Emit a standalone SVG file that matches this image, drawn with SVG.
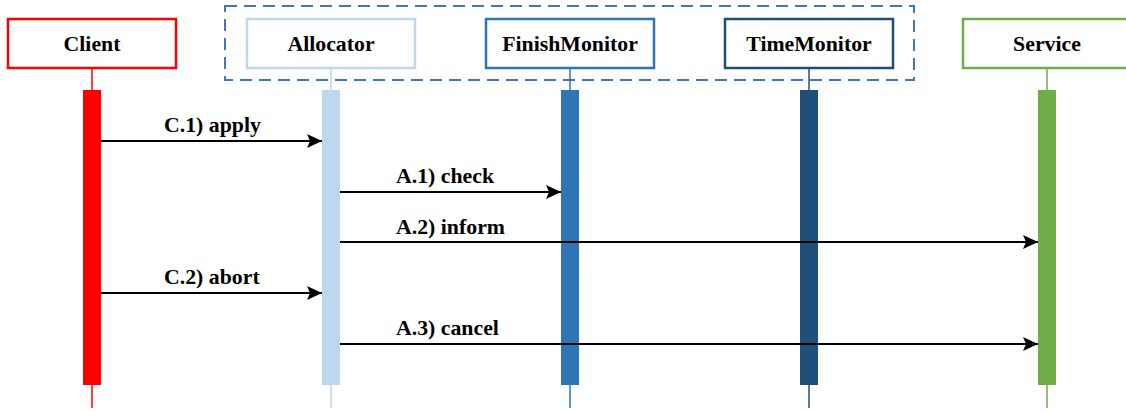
<svg xmlns="http://www.w3.org/2000/svg" width="1126" height="412" viewBox="0 0 1126 412">
<style>
text{font-family:"Liberation Serif","Times New Roman",serif;font-weight:bold;font-size:21.8px;fill:#000}
.box{fill:#fff;stroke-width:2.5}
.life{stroke-width:1.5}
.msg{stroke:#000;stroke-width:2;fill:none;marker-end:url(#ah)}
.lbl{text-anchor:start}
.nm{text-anchor:middle}
</style>
<defs>
<marker id="ah" viewBox="0 0 15 14" refX="15" refY="7" markerWidth="15" markerHeight="14" markerUnits="userSpaceOnUse" orient="auto">
<path d="M0,0 L15,7 L0,14 L3,7 Z" fill="#000"/>
</marker>
</defs>
<rect x="225" y="6" width="689" height="74" fill="none" stroke="#4472C4" stroke-width="2" stroke-dasharray="12,7"/>
<g id="client">
<line class="life" x1="92" y1="68" x2="92" y2="408" stroke="#FF0000"/>
<rect class="box" x="8" y="19" width="168" height="49" stroke="#FF0000"/>
<text class="nm" x="92" y="51">Client</text>
<rect x="83" y="90" width="18" height="295" fill="#FF0000"/>
</g>
<g id="allocator">
<line class="life" x1="331" y1="68" x2="331" y2="408" stroke="#BDD7EE"/>
<rect class="box" x="247" y="19" width="168" height="49" stroke="#BDD7EE"/>
<text class="nm" x="331" y="51">Allocator</text>
<rect x="322" y="90" width="18" height="295" fill="#BDD7EE"/>
</g>
<g id="finishmonitor">
<line class="life" x1="570" y1="68" x2="570" y2="408" stroke="#2E75B6"/>
<rect class="box" x="486" y="19" width="168" height="49" stroke="#2E75B6"/>
<text class="nm" x="570" y="51">FinishMonitor</text>
<rect x="561" y="90" width="18" height="295" fill="#2E75B6"/>
</g>
<g id="timemonitor">
<line class="life" x1="809" y1="68" x2="809" y2="408" stroke="#1F4E79"/>
<rect class="box" x="725" y="19" width="168" height="49" stroke="#1F4E79"/>
<text class="nm" x="809" y="51">TimeMonitor</text>
<rect x="800" y="90" width="18" height="295" fill="#1F4E79"/>
</g>
<g id="service">
<line class="life" x1="1047" y1="68" x2="1047" y2="408" stroke="#70AD47"/>
<rect class="box" x="963" y="19" width="168" height="49" stroke="#70AD47"/>
<text class="nm" x="1047" y="51">Service</text>
<rect x="1038" y="90" width="18" height="295" fill="#70AD47"/>
</g>
<g id="connectors">
<line class="msg" x1="101" y1="141" x2="322" y2="141"/>
<text class="lbl" x="164" y="132">C.1) apply</text>
<line class="msg" x1="340" y1="192" x2="561" y2="192"/>
<text class="lbl" x="396" y="183">A.1) check</text>
<line class="msg" x1="340" y1="242" x2="1038" y2="242"/>
<text class="lbl" x="396" y="234">A.2) inform</text>
<line class="msg" x1="101" y1="293" x2="322" y2="293"/>
<text class="lbl" x="164" y="284">C.2) abort</text>
<line class="msg" x1="340" y1="344" x2="1038" y2="344"/>
<text class="lbl" x="396" y="335">A.3) cancel</text>
</g>
</svg>
